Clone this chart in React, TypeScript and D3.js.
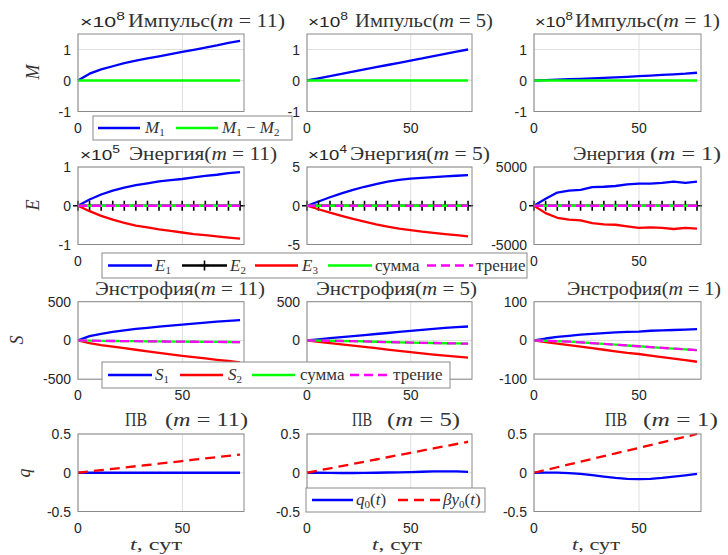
import React from "react";
import * as d3 from "d3";

// ---------- data ----------
const t = [0, 5.54, 11.09, 16.63, 22.17, 27.71, 33.26, 38.8, 44.34, 49.89, 55.43, 60.97, 66.51, 72.06, 77.6];

// Momentum (x1e8)
const M1_m11 = [0, 0.22, 0.36, 0.46, 0.56, 0.64, 0.71, 0.78, 0.85, 0.92, 0.99, 1.06, 1.13, 1.21, 1.28];
const M1_m5 = [0, 0.07, 0.14, 0.21, 0.29, 0.36, 0.43, 0.5, 0.57, 0.64, 0.71, 0.79, 0.86, 0.93, 1.0];
const M1_m1 = [0, 0.01, 0.025, 0.04, 0.055, 0.07, 0.085, 0.1, 0.12, 0.14, 0.16, 0.18, 0.2, 0.22, 0.25];
const dM_m11 = [0, 0, 0, 0, 0, 0, 0, 0, 0, 0, 0, 0, 0, 0, 0];
const dM_m5 = [0, 0, 0, 0, 0, 0, 0, 0, 0, 0, 0, 0, 0, 0, 0];
const dM_m1 = [0, 0, 0, 0, 0, 0, 0, 0, 0, 0, 0, 0, 0, 0, 0];

// Energy
const E1_m11 = [0, 0.16, 0.29, 0.39, 0.47, 0.53, 0.58, 0.63, 0.66, 0.69, 0.73, 0.77, 0.8, 0.84, 0.87];
const E3_m11 = [0, -0.14, -0.26, -0.36, -0.44, -0.51, -0.56, -0.61, -0.65, -0.69, -0.73, -0.76, -0.79, -0.82, -0.85];
const E1_m5 = [0, 0.55, 1.1, 1.6, 2.05, 2.45, 2.8, 3.1, 3.35, 3.5, 3.6, 3.7, 3.8, 3.87, 3.95];
const E3_m5 = [0, -0.45, -0.9, -1.3, -1.7, -2.05, -2.4, -2.7, -2.95, -3.15, -3.35, -3.5, -3.65, -3.8, -3.95];
const E1_m1 = [0, 900, 1700, 1950, 2050, 2400, 2450, 2550, 2750, 2850, 2850, 2950, 3100, 2950, 3100];
const E3_m1 = [0, -950, -1550, -1800, -1900, -2250, -2400, -2450, -2650, -2850, -2800, -2850, -3000, -2850, -2950];
const E2_zero = [0, 0, 0, 0, 0, 0, 0, 0, 0, 0, 0, 0, 0, 0, 0];
const Esum_zero = [0, 0, 0, 0, 0, 0, 0, 0, 0, 0, 0, 0, 0, 0, 0];
const Efric_zero = [0, 0, 0, 0, 0, 0, 0, 0, 0, 0, 0, 0, 0, 0, 0];

// Enstrophy
const S1_m11 = [0, 55, 85, 110, 130, 148, 163, 178, 192, 205, 218, 230, 242, 252, 262];
const S2_m11 = [0, -35, -60, -80, -100, -120, -140, -160, -180, -198, -215, -232, -250, -265, -282];
const Ssum_m11 = [0, -3, -5, -7, -9, -10, -12, -13, -15, -16, -17, -18, -19, -20, -22];
const Sfric_m11 = [0, -3, -5, -7, -9, -10, -12, -13, -15, -16, -17, -18, -19, -20, -22];
const S1_m5 = [0, 15, 30, 44, 57, 70, 83, 96, 110, 124, 137, 150, 162, 172, 180];
const S2_m5 = [0, -17, -34, -51, -67, -84, -100, -117, -134, -150, -166, -182, -197, -210, -222];
const Ssum_m5 = [0, -2, -4, -7, -10, -13, -17, -21, -24, -27, -30, -33, -36, -39, -42];
const Sfric_m5 = [0, -2, -4, -7, -10, -13, -17, -21, -24, -27, -30, -33, -36, -39, -42];
const S1_m1 = [0, 5, 9, 12, 15, 17, 19, 21, 22, 23, 25, 26, 27, 28, 29];
const S2_m1 = [0, -4, -8, -12, -16, -20, -24, -28, -32, -35, -39, -43, -47, -51, -55];
const Ssum_m1 = [0, -1, -2, -3, -5, -7, -9, -11, -13, -15, -17, -19, -21, -23, -25];
const Sfric_m1 = [0, -1, -2, -3, -5, -7, -9, -11, -13, -15, -17, -19, -21, -23, -25];

// Potential vorticity
const q0_m11 = [0, 0, 0, 0, 0, 0, 0, 0, 0, 0, 0, 0, 0, 0, 0];
const by0_m11 = [0, 0.017, 0.034, 0.05, 0.067, 0.084, 0.1, 0.117, 0.134, 0.151, 0.168, 0.185, 0.201, 0.218, 0.235];
const q0_m5 = [0, 0, -0.002, -0.003, -0.003, -0.002, 0, 0.003, 0.006, 0.009, 0.013, 0.017, 0.019, 0.017, 0.01];
const by0_m5 = [0, 0.029, 0.057, 0.086, 0.114, 0.143, 0.171, 0.2, 0.229, 0.257, 0.286, 0.314, 0.343, 0.371, 0.4];
const q0_m1 = [0, 0.002, 0.001, -0.004, -0.015, -0.032, -0.05, -0.066, -0.078, -0.082, -0.078, -0.066, -0.05, -0.033, -0.015];
const by0_m1 = [0, 0.036, 0.071, 0.107, 0.143, 0.179, 0.214, 0.25, 0.286, 0.321, 0.357, 0.393, 0.429, 0.464, 0.5];

const xTicks = [0, 50];
const xDomain = [0, 79.5];

// ---------- layout ----------
const colLeft = [78, 307, 534];
const colWidth = [166, 165, 167];
const rowTop = [34, 167, 301.7, 434];
const rowH = 77.5;

const BLUE = "#0000ff";
const GREEN = "#00ff00";
const RED = "#ff0000";
const MAG = "#ff00ff";
const BLACK = "#000000";
const LW = 2.3;

type Series = { v: number[]; color: string; dash?: string; marker?: boolean };
type PanelDef = { row: number; col: number; ylim: [number, number]; yticks: number[]; hideX?: number[]; series: Series[] };

const energySeries = (e1: number[], e3: number[]): Series[] => [
  { v: e1, color: BLUE },
  { v: E2_zero, color: BLACK, marker: true },
  { v: e3, color: RED },
  { v: Esum_zero, color: GREEN },
  { v: Efric_zero, color: MAG, dash: "9,5" },
];
const enstSeries = (s1: number[], s2: number[], ss: number[], sf: number[]): Series[] => [
  { v: s1, color: BLUE },
  { v: s2, color: RED },
  { v: ss, color: GREEN },
  { v: sf, color: MAG, dash: "9,5" },
];

const panels: PanelDef[] = [
  { row: 0, col: 0, ylim: [-1, 1.5], yticks: [-1, 0, 1], hideX: [50], series: [{ v: M1_m11, color: BLUE }, { v: dM_m11, color: GREEN }] },
  { row: 0, col: 1, ylim: [-1, 1.5], yticks: [-1, 0, 1], series: [{ v: M1_m5, color: BLUE }, { v: dM_m5, color: GREEN }] },
  { row: 0, col: 2, ylim: [-1, 1.5], yticks: [-1, 0, 1], series: [{ v: M1_m1, color: BLUE }, { v: dM_m1, color: GREEN }] },
  { row: 1, col: 0, ylim: [-1, 1], yticks: [-1, 0, 1], hideX: [50], series: energySeries(E1_m11, E3_m11) },
  { row: 1, col: 1, ylim: [-5, 5], yticks: [-5, 0, 5], hideX: [0, 50], series: energySeries(E1_m5, E3_m5) },
  { row: 1, col: 2, ylim: [-5000, 5000], yticks: [-5000, 0, 5000], series: energySeries(E1_m1, E3_m1) },
  { row: 2, col: 0, ylim: [-500, 500], yticks: [-500, 0, 500], series: enstSeries(S1_m11, S2_m11, Ssum_m11, Sfric_m11) },
  { row: 2, col: 1, ylim: [-500, 500], yticks: [-500, 0, 500], series: enstSeries(S1_m5, S2_m5, Ssum_m5, Sfric_m5) },
  { row: 2, col: 2, ylim: [-100, 100], yticks: [-100, 0, 100], series: enstSeries(S1_m1, S2_m1, Ssum_m1, Sfric_m1) },
  { row: 3, col: 0, ylim: [-0.5, 0.5], yticks: [-0.5, 0, 0.5], series: [{ v: q0_m11, color: BLUE }, { v: by0_m11, color: RED, dash: "10,6" }] },
  { row: 3, col: 1, ylim: [-0.5, 0.5], yticks: [-0.5, 0, 0.5], series: [{ v: q0_m5, color: BLUE }, { v: by0_m5, color: RED, dash: "10,6" }] },
  { row: 3, col: 2, ylim: [-0.5, 0.5], yticks: [-0.5, 0, 0.5], series: [{ v: q0_m1, color: BLUE }, { v: by0_m1, color: RED, dash: "10,6" }] },
];

const SANS = "'Liberation Sans', Arial, sans-serif";
const SERIF = "'Liberation Serif', 'Times New Roman', serif";
const TXT = "#262626";
const TTXT = "#333333";

function Panel({ p }: { p: PanelDef }) {
  const x0 = colLeft[p.col];
  const w = colWidth[p.col];
  const y0 = rowTop[p.row];
  const x = d3.scaleLinear().domain(xDomain).range([x0, x0 + w]);
  const y = d3.scaleLinear().domain(p.ylim).range([y0 + rowH, y0]);
  const line = d3
    .line<number>()
    .x((_, i) => x(t[i]))
    .y((d) => y(d));
  const fmt = (v: number) => String(v);
  const hide = p.hideX || [];
  return (
    <g>
      <rect x={x0} y={y0} width={w} height={rowH} fill="#fff" />
      {xTicks.map((tk) => (
        <line key={"gx" + tk} x1={x(tk)} x2={x(tk)} y1={y0} y2={y0 + rowH} stroke="#dfdfdf" strokeWidth={1} />
      ))}
      {p.yticks.map((tk) => (
        <line key={"gy" + tk} x1={x0} x2={x0 + w} y1={y(tk)} y2={y(tk)} stroke="#dfdfdf" strokeWidth={1} />
      ))}
      {p.series.map((s, i) => (
        <g key={i}>
          <path d={line(s.v) || ""} fill="none" stroke={s.color} strokeWidth={LW} strokeDasharray={s.dash} strokeLinejoin="round" />
          {s.marker &&
            s.v.map((d, j) => (
              <path
                key={j}
                d={`M${x(t[j]) - 5},${y(d)}H${x(t[j]) + 5}M${x(t[j])},${y(d) - 5}V${y(d) + 5}`}
                stroke={s.color}
                strokeWidth={1.6}
              />
            ))}
        </g>
      ))}
      <rect x={x0} y={y0} width={w} height={rowH} fill="none" stroke="#8a8a8a" strokeWidth={1} />
      {xTicks
        .filter((tk) => !hide.includes(tk))
        .map((tk) => (
          <text key={"tx" + tk} x={x(tk)} y={y0 + rowH + 21} textAnchor="middle" fontFamily={SANS} fontSize={14} fill={TXT}>
            {fmt(tk)}
          </text>
        ))}
      {p.yticks.map((tk) => (
        <text key={"ty" + tk} x={x0 - 7} y={y(tk) + 5} textAnchor="end" fontFamily={SANS} fontSize={14} fill={TXT}>
          {fmt(tk)}
        </text>
      ))}
    </g>
  );
}

const TFS = 18;
function Title({ x1, x2, y, word, m }: { x1: number; x2: number; y: number; word: string; m: string }) {
  return (
    <text x={x1} y={y} textLength={x2 - x1} lengthAdjust="spacingAndGlyphs" fontFamily={SERIF} fontSize={TFS} fill={TTXT}>
      {word}(<tspan fontStyle="italic">m</tspan> = {m})
    </text>
  );
}
function Paren({ x1, x2, y, m }: { x1: number; x2: number; y: number; m: string }) {
  return (
    <text x={x1} y={y} textLength={x2 - x1} lengthAdjust="spacingAndGlyphs" fontFamily={SERIF} fontSize={TFS} fill={TTXT}>
      (<tspan fontStyle="italic">m</tspan> = {m})
    </text>
  );
}
function Plain({ x1, x2, y, s }: { x1: number; x2: number; y: number; s: string }) {
  return (
    <text x={x1} y={y} textLength={x2 - x1} lengthAdjust="spacingAndGlyphs" fontFamily={SERIF} fontSize={TFS} fill={TTXT}>
      {s}
    </text>
  );
}
function Expo({ x1, x2, y, e }: { x1: number; x2: number; y: number; e: string }) {
  return (
    <text x={x1} y={y} textLength={x2 - x1} lengthAdjust="spacingAndGlyphs" fontFamily={SANS} fontSize={15} fill={TXT}>
      ×10
      <tspan fontSize={11} dy={-7}>
        {e}
      </tspan>
    </text>
  );
}
function YLab({ x, y, s }: { x: number; y: number; s: string }) {
  return (
    <text transform={`translate(${x},${y}) rotate(-90)`} textAnchor="middle" dy={6} fontFamily={SERIF} fontStyle="italic" fontSize={18} fill={TTXT}>
      {s}
    </text>
  );
}
function XLab({ x1, x2, y }: { x1: number; x2: number; y: number }) {
  return (
    <text x={x1} y={y} textLength={x2 - x1} lengthAdjust="spacingAndGlyphs" fontFamily={SERIF} fontSize={17} fill={TTXT}>
      <tspan fontStyle="italic">t</tspan>, сут
    </text>
  );
}

function LLine({ x1, x2, y, color, dash, marker }: { x1: number; x2: number; y: number; color: string; dash?: string; marker?: boolean }) {
  const xm = (x1 + x2) / 2;
  return (
    <g>
      <line x1={x1} x2={x2} y1={y} y2={y} stroke={color} strokeWidth={LW} strokeDasharray={dash} />
      {marker && <path d={`M${xm - 5},${y}H${xm + 5}M${xm},${y - 5}V${y + 5}`} stroke={color} strokeWidth={1.6} />}
    </g>
  );
}
function Sym({ x, y, base, sub }: { x: number; y: number; base: string; sub: string }) {
  return (
    <text x={x} y={y} fontFamily={SERIF} fontSize={17} fill={TTXT}>
      <tspan fontStyle="italic">{base}</tspan>
      <tspan fontSize={11} dy={3}>
        {sub}
      </tspan>
    </text>
  );
}
function Box({ x1, x2, y1, y2 }: { x1: number; x2: number; y1: number; y2: number }) {
  return <rect x={x1} y={y1} width={x2 - x1} height={y2 - y1} fill="#fff" stroke="#8a8a8a" strokeWidth={1} />;
}

export default function App() {
  const L1 = 128;
  const L2 = 265.5;
  const L3 = 375;
  const L4 = 500;
  return (
    <svg width={728} height={555} style={{ position: "absolute", left: 0, top: 0, background: "#fff" }}>
      <rect width={728} height={555} fill="#fff" />
      {panels.map((p, i) => (
        <Panel key={i} p={p} />
      ))}

      {/* exponents */}
      <Expo x1={80} x2={125} y={27} e="8" />
      <Expo x1={308} x2={348} y={27} e="8" />
      <Expo x1={535} x2={573} y={27} e="8" />
      <Expo x1={80} x2={120} y={160} e="5" />
      <Expo x1={308} x2={347} y={160} e="4" />

      {/* titles */}
      <Title x1={128} x2={285} y={27} word="Импульс" m="11" />
      <Title x1={355} x2={493} y={27} word="Импульс" m="5" />
      <Title x1={575} x2={720} y={27} word="Импульс" m="1" />
      <Title x1={129} x2={277} y={160} word="Энергия" m="11" />
      <Title x1={350} x2={490} y={160} word="Энергия" m="5" />
      <Plain x1={573} x2={645} y={160} s="Энергия" />
      <Paren x1={650} x2={721} y={160} m="1" />
      <Title x1={95} x2={265} y={295} word="Энстрофия" m="11" />
      <Title x1={316} x2={477} y={295} word="Энстрофия" m="5" />
      <Title x1={567} x2={721} y={295} word="Энстрофия" m="1" />
      <Plain x1={125} x2={147} y={426} s="ПВ" />
      <Paren x1={165} x2={248} y={426} m="11" />
      <Plain x1={352} x2={372} y={426} s="ПВ" />
      <Paren x1={387} x2={460} y={426} m="5" />
      <Plain x1={605} x2={627} y={426} s="ПВ" />
      <Paren x1={643} x2={718} y={426} m="1" />

      {/* axis labels */}
      <YLab x={33} y={72} s="M" />
      <YLab x={33} y={205} s="E" />
      <YLab x={17} y={340} s="S" />
      <YLab x={24} y={473} s="q" />
      <XLab x1={130} x2={182} y={550} />
      <XLab x1={372} x2={422} y={550} />
      <XLab x1={572} x2={620} y={550} />

      {/* legend 1 */}
      <Box x1={93} x2={292} y1={116} y2={140} />
      <LLine x1={98} x2={140} y={L1} color={BLUE} />
      <Sym x={145} y={L1 + 5} base="M" sub="1" />
      <LLine x1={176} x2={218} y={L1} color={GREEN} />
      <text x={222} y={L1 + 5} fontFamily={SERIF} fontSize={17} fill={TTXT}>
        <tspan fontStyle="italic">M</tspan>
        <tspan fontSize={11} dy={3}>1</tspan>
        <tspan dy={-3}> − </tspan>
        <tspan fontStyle="italic">M</tspan>
        <tspan fontSize={11} dy={3}>2</tspan>
      </text>

      {/* legend 2 */}
      <Box x1={102} x2={527} y1={253} y2={278} />
      <LLine x1={108} x2={152} y={L2} color={BLUE} />
      <Sym x={155} y={L2 + 5} base="E" sub="1" />
      <LLine x1={182} x2={227} y={L2} color={BLACK} marker />
      <Sym x={230} y={L2 + 5} base="E" sub="2" />
      <LLine x1={255} x2={298} y={L2} color={RED} />
      <Sym x={302} y={L2 + 5} base="E" sub="3" />
      <LLine x1={328} x2={372} y={L2} color={GREEN} />
      <text x={375} y={L2 + 5} fontFamily={SERIF} fontSize={17} fill={TTXT}>сумма</text>
      <LLine x1={427} x2={473} y={L2} color={MAG} dash="9,5" />
      <text x={476} y={L2 + 5} fontFamily={SERIF} fontSize={17} fill={TTXT}>трение</text>

      {/* legend 3 */}
      <Box x1={102} x2={450} y1={362} y2={388} />
      <LLine x1={108} x2={152} y={L3} color={BLUE} />
      <Sym x={155} y={L3 + 5} base="S" sub="1" />
      <LLine x1={180} x2={223} y={L3} color={RED} />
      <Sym x={228} y={L3 + 5} base="S" sub="2" />
      <LLine x1={252} x2={295} y={L3} color={GREEN} />
      <text x={300} y={L3 + 5} fontFamily={SERIF} fontSize={17} fill={TTXT}>сумма</text>
      <LLine x1={350} x2={390} y={L3} color={MAG} dash="9,5" />
      <text x={393} y={L3 + 5} fontFamily={SERIF} fontSize={17} fill={TTXT}>трение</text>

      {/* legend 4 */}
      <Box x1={306} x2={485} y1={488} y2={512} />
      <LLine x1={312} x2={353} y={L4} color={BLUE} />
      <text x={356} y={L4 + 5} fontFamily={SERIF} fontSize={17} fill={TTXT}>
        <tspan fontStyle="italic">q</tspan>
        <tspan fontSize={11} dy={3}>0</tspan>
        <tspan dy={-3}>(</tspan>
        <tspan fontStyle="italic">t</tspan>
        <tspan>)</tspan>
      </text>
      <LLine x1={398} x2={440} y={L4} color={RED} dash="10,6" />
      <text x={443} y={L4 + 5} fontFamily={SERIF} fontSize={17} fill={TTXT}>
        <tspan fontStyle="italic">βy</tspan>
        <tspan fontSize={11} dy={3}>0</tspan>
        <tspan dy={-3}>(</tspan>
        <tspan fontStyle="italic">t</tspan>
        <tspan>)</tspan>
      </text>
    </svg>
  );
}
